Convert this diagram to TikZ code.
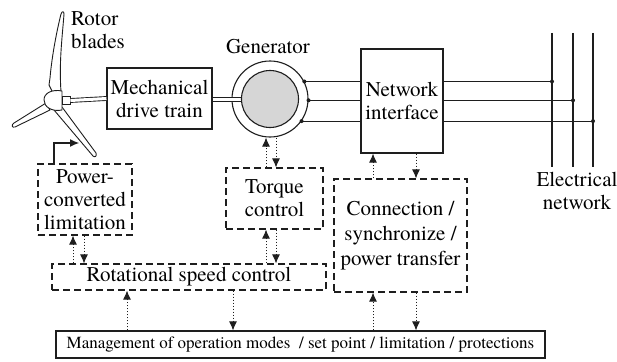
\documentclass[tikz,border=0pt]{standalone}
\usepackage{fontspec}
\setmainfont{texgyretermes}[Extension=.otf, UprightFont=*-regular, BoldFont=*-bold,
  ItalicFont=*-italic, BoldItalicFont=*-bolditalic]
\usetikzlibrary{arrows.meta}
\definecolor{ink}{RGB}{30,30,30}
\definecolor{rotorgray}{RGB}{214,214,214}
\begin{document}
\begin{tikzpicture}[x=1pt,y=-1pt,
  wire/.style={draw=ink, line width=1.1pt},
  solidbox/.style={draw=ink, line width=1.1pt, fill=white, inner sep=0pt, align=center,
    font=\fontsize{21}{23}\selectfont},
  dashbox/.style={solidbox, dash pattern=on 7pt off 4pt},
  lbl/.style={inner sep=0pt, font=\fontsize{21}{23}\selectfont},
  sig/.style={draw=ink, line width=1pt, dotted, -{Latex[length=9pt,width=8pt]}},
  blade/.style={draw=ink, line width=0.9pt, fill=white, line join=round},
  dot/.style={circle, fill=ink, inner sep=0pt, minimum size=4pt}]
\useasboundingbox (0,0) rectangle (617,361);

% ---- rotor: three blades and the hub ----
\draw[blade] (53,93) -- (49,85) -- (50,78) .. controls (52,55) and (57,30) .. (61,14)
  .. controls (62,11) and (64,11) .. (64,14) .. controls (62,40) and (59,62) .. (61,92) -- cycle;
\draw[blade] (46,103) -- (14,123) .. controls (11,125) and (12,128) .. (15,127) -- (50,110) -- cycle;
\draw[blade] (62,107) -- (96,153) .. controls (97,156) and (95,158) .. (93,156) -- (54,110) -- cycle;
\draw[blade] (62,91) -- (62,110) .. controls (52,112) and (44,107) .. (44,100)
  .. controls (44,93) and (52,89) .. (62,91) -- cycle;
\node[draw=ink, line width=0.9pt, fill=white, minimum width=8pt, minimum height=8pt, inner sep=0pt]
  (nacelle) at (66,100.5) {};
\node[lbl, anchor=west, align=left] (rotorlbl) at (71,30) {Rotor\\blades};

% ---- drive train and generator ----
\node[solidbox, minimum width=105pt, minimum height=61pt] (mech) at (159.5,98.5) {Mechanical\\drive train};
\draw[draw=ink, line width=0.9pt, double=white, double distance=3pt] (nacelle.east) -- (mech.west);

\node[circle, draw=ink, line width=1.1pt, fill=white, minimum size=76pt, inner sep=0pt] (gen) at (270,99) {};
\coordinate (shaftend) at (242,99.5);
\draw[draw=ink, line width=0.9pt, double=white, double distance=3pt] (mech.east |- shaftend) -- (shaftend);
\node[circle, draw=ink, line width=1.1pt, fill=rotorgray, minimum size=57pt, inner sep=0pt] (rot) at (270,99) {};
\node[lbl] (genlbl) at (268,47) {Generator};

% ---- network interface and grid ----
\node[solidbox, minimum width=82pt, minimum height=104pt] (ni) at (402,101) {Network\\interface};

\coordinate (busA) at (552,33);
\coordinate (busB) at (573,33);
\coordinate (busC) at (593,33);
\coordinate (busbot) at (0,167);
\foreach \b in {busA,busB,busC} {
  \draw[wire] (\b) -- (\b |- busbot);
}
\node[lbl, align=center] (gridlbl) at (577,191) {Electrical\\network};

\draw[wire] (gen.27) -- (gen.27 -| ni.west);
\draw[wire] (gen.-2) -- (gen.-2 -| ni.west);
\draw[wire] (gen.-35) -- (gen.-35 -| ni.west);
\node[dot] at (gen.27) {};
\node[dot] at (gen.-2) {};
\node[dot] at (gen.-35) {};

\draw[wire] (gen.27 -| ni.east) -- (gen.27 -| busA);
\draw[wire] (gen.-2 -| ni.east) -- (gen.-2 -| busB);
\draw[wire] (gen.-35 -| ni.east) -- (gen.-35 -| busC);
\node[dot] at (gen.27 -| busA) {};
\node[dot] at (gen.-2 -| busB) {};
\node[dot] at (gen.-35 -| busC) {};

% ---- control blocks ----
\node[dashbox, minimum width=94pt, minimum height=71pt] (pcl) at (85,199.5) {Power-\\converted\\limitation};
\node[dashbox, minimum width=97pt, minimum height=61pt] (tq) at (274.5,198.5) {Torque\\control};
\node[dashbox, minimum width=274pt, minimum height=26pt] (rsc) at (189,277) {Rotational speed control};
\node[dashbox, minimum width=133pt, minimum height=113pt, font=\fontsize{21}{25}\selectfont] (conn) at (400.5,235.5)
  {Connection /\\ synchronize /\\power transfer};
\node[solidbox, minimum width=489pt, minimum height=27pt, font=\fontsize{17}{20}\selectfont] (mgmt) at (300.5,344.5)
  {Management of operation modes~~/ set point / limitation / protections};

% pitch command towards the blades
\coordinate (xpitch) at (54,0);
\coordinate (bladeaim) at (79,143);
\draw[wire, -{Latex[length=9pt,width=8pt]}] (pcl.north -| xpitch) |- (bladeaim);

% ---- signal paths ----
\coordinate (xpu) at (73,0);   \coordinate (xpd) at (84,0);
\coordinate (xtu) at (266,0);  \coordinate (xtd) at (276,0);
\coordinate (xcu) at (373,0);  \coordinate (xcd) at (416,0);
\coordinate (xru) at (127,0);  \coordinate (xrd) at (233,0);

\draw[sig] (tq.north -| xtu) -- (gen.south -| xtu);
\draw[sig] (gen.south -| xtd) -- (tq.north -| xtd);

\draw[sig] (rsc.north -| xpu) -- (pcl.south -| xpu);
\draw[sig] (pcl.south -| xpd) -- (rsc.north -| xpd);

\draw[sig] (rsc.north -| xtu) -- (tq.south -| xtu);
\draw[sig] (tq.south -| xtd) -- (rsc.north -| xtd);

\draw[sig] (conn.north -| xcu) -- (ni.south -| xcu);
\draw[sig] (ni.south -| xcd) -- (conn.north -| xcd);

\draw[sig] (mgmt.north -| xru) -- (rsc.south -| xru);
\draw[sig] (rsc.south -| xrd) -- (mgmt.north -| xrd);

\draw[sig] (mgmt.north -| xcu) -- (conn.south -| xcu);
\draw[sig] (conn.south -| xcd) -- (mgmt.north -| xcd);
\end{tikzpicture}
\end{document}
